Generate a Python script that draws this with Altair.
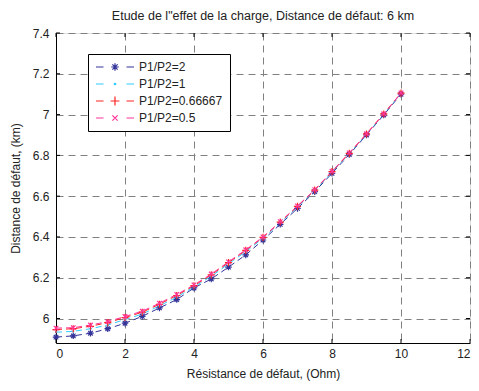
import altair as alt
import pandas as pd
import re

# ---- data ----
resistance = [0, 0.5, 1, 1.5, 2, 2.5, 3, 3.5, 4, 4.5, 5, 5.5, 6, 6.5, 7, 7.5, 8, 8.5, 9, 9.5, 10]
series_names = ["P1/P2=2", "P1/P2=1", "P1/P2=0.66667", "P1/P2=0.5"]
dist_p2 = [5.909, 5.915, 5.928, 5.950, 5.977, 6.011, 6.052, 6.093, 6.150, 6.194, 6.252,
           6.312, 6.385, 6.462, 6.540, 6.622, 6.712, 6.804, 6.900, 6.998, 7.100]
dist_p1 = [5.933, 5.937, 5.950, 5.968, 5.995, 6.022, 6.062, 6.105, 6.155, 6.207, 6.268,
           6.328, 6.393, 6.469, 6.547, 6.627, 6.717, 6.808, 6.903, 7.001, 7.104]
dist_p0667 = [5.946, 5.950, 5.962, 5.980, 6.005, 6.031, 6.070, 6.113, 6.161, 6.214, 6.274,
              6.334, 6.398, 6.473, 6.550, 6.630, 6.720, 6.810, 6.905, 7.003, 7.105]
dist_p05 = [5.953, 5.955, 5.968, 5.985, 6.010, 6.036, 6.075, 6.118, 6.165, 6.218, 6.278,
            6.337, 6.400, 6.475, 6.552, 6.632, 6.722, 6.812, 6.906, 7.004, 7.106]
x_ticks = [0, 2, 4, 6, 8, 10, 12]
y_ticks = [6, 6.2, 6.4, 6.6, 6.8, 7, 7.2, 7.4]

colors = ["#333399", "#33ccff", "#ff2222", "#ff3399"]

STAR = "M-1,0H1M0,-1V1M-0.7,-0.7L0.7,0.7M-0.7,0.7L0.7,-0.7"
DOT = "M-0.15,0A0.15,0.15 0 1 0 0.15,0A0.15,0.15 0 1 0 -0.15,0"
PLUS = "M-1.1,0H1.1M0,-1.1V1.1"
XMARK = "M-0.7,-0.7L0.7,0.7M-0.7,0.7L0.7,-0.7"
markers = [STAR, DOT, PLUS, XMARK]


def scale_path(m, s):
    out = []
    for tok in re.split(r"([A-Za-z])", m):
        if not tok:
            continue
        if tok[0].isalpha():
            out.append(tok)
        else:
            out.append(" ".join(
                ",".join(str(round(float(p) * s, 3)) for p in grp.split(","))
                for grp in tok.split(" ")))
    return "".join(out)


LEG_LINE = "M-3.8,0H-2.3M2.3,0H3.8"
leg_shapes = [
    LEG_LINE + scale_path(STAR, 0.75),
    LEG_LINE + "M-0.15,0A0.15,0.15 0 1 0 0.15,0A0.15,0.15 0 1 0 -0.15,0",
    LEG_LINE + scale_path(PLUS, 0.8),
    LEG_LINE + scale_path(XMARK, 0.75),
]

series_vals = [dist_p2, dist_p1, dist_p0667, dist_p05]
rows = []
for name, vals in zip(series_names, series_vals):
    for r, d in zip(resistance, vals):
        rows.append({"R": r, "D": d, "serie": name})
df = pd.DataFrame(rows)

W, H = 414, 310
FONT = "Liberation Sans"
TXT = "#222222"
FS = 12

xs = alt.Scale(domain=[0, 12], nice=False, zero=False)
ys = alt.Scale(domain=[5.88, 7.4], nice=False, zero=False)
cscale = alt.Scale(domain=series_names, range=colors)

x_enc = alt.X("R:Q", scale=xs,
              axis=alt.Axis(values=x_ticks, title="Résistance de défaut, (Ohm)", grid=True,
                            gridDash=[7, 5], gridColor="#808080", gridOpacity=1,
                            domainColor="#000000", tickSize=0, labelPadding=5,
                            titlePadding=9, format="d", titleFontWeight="normal",
                            titleFont=FONT, titleFontSize=FS, titleColor=TXT,
                            labelFont=FONT, labelFontSize=FS, labelColor=TXT))
y_enc = alt.Y("D:Q", scale=ys,
              axis=alt.Axis(values=y_ticks, title="Distance de défaut, (km)", grid=True,
                            gridDash=[7, 5], gridColor="#808080", gridOpacity=1,
                            domainColor="#000000", tickSize=0, labelPadding=7,
                            titlePadding=10, format="~g", titleFontWeight="normal",
                            titleFont=FONT, titleFontSize=FS, titleColor=TXT,
                            labelFont=FONT, labelFontSize=FS, labelColor=TXT))

base = alt.Chart(df)

layers = []
for i, (name, m, c) in enumerate(zip(series_names, markers, colors)):
    sub = base.transform_filter(alt.datum.serie == name)
    if i == 0:
        layers.append(sub.mark_line(strokeWidth=1, strokeDash=[6, 4], color=c).encode(x=x_enc, y=y_enc))
    else:
        layers.append(sub.mark_line(strokeWidth=1, strokeDash=[6, 4], color=c).encode(x="R:Q", y="D:Q"))
for name, m, c in zip(series_names, markers, colors):
    sub = base.transform_filter(alt.datum.serie == name)
    layers.append(sub.mark_point(shape=m, filled=False, size=42, strokeWidth=1.2,
                                 opacity=1, color=c).encode(x="R:Q", y="D:Q"))

legend_layer = base.mark_point(opacity=0, filled=False).encode(
    x="R:Q", y="D:Q",
    color=alt.Color("serie:N", scale=cscale,
                    legend=alt.Legend(title=None, orient="none", legendX=32, legendY=21,
                                      strokeColor="#000000", fillColor="#ffffff",
                                      padding=7, symbolSize=100, symbolStrokeWidth=1.2,
                                      symbolOpacity=1, symbolOffset=14, labelOffset=18,
                                      labelFontSize=FS, labelFont=FONT, labelColor=TXT,
                                      rowPadding=4)),
    shape=alt.Shape("serie:N", scale=alt.Scale(domain=series_names, range=leg_shapes)),
)

# inward tick marks (Matlab style)
xt = pd.DataFrame({"t": x_ticks})
yt = pd.DataFrame({"t": y_ticks})
xtick_b = alt.Chart(xt).mark_rule(color="#000000", strokeWidth=1).encode(
    x=alt.X("t:Q", scale=xs), y=alt.value(H), y2=alt.value(H - 4))
xtick_t = alt.Chart(xt).mark_rule(color="#000000", strokeWidth=1).encode(
    x=alt.X("t:Q", scale=xs), y=alt.value(0), y2=alt.value(4))
ytick_l = alt.Chart(yt).mark_rule(color="#000000", strokeWidth=1).encode(
    y=alt.Y("t:Q", scale=ys), x=alt.value(0), x2=alt.value(4))
ytick_r = alt.Chart(yt).mark_rule(color="#000000", strokeWidth=1).encode(
    y=alt.Y("t:Q", scale=ys), x=alt.value(W), x2=alt.value(W - 4))

chart = alt.layer(*layers, legend_layer, xtick_b, xtick_t, ytick_l, ytick_r).properties(
    width=W, height=H,
    title=alt.Title('Etude de l"effet de la charge, Distance de défaut: 6 km',
                    font=FONT, fontSize=12.5, fontWeight="normal", color=TXT, offset=5),
    autosize=alt.AutoSizeParams(type="none"),
    padding={"left": 48, "top": 25, "right": 1, "bottom": 40},
).configure_view(stroke=None).configure(background="#ffffff")

chart.save("out.html", embed_options={"renderer": "svg", "actions": False})
